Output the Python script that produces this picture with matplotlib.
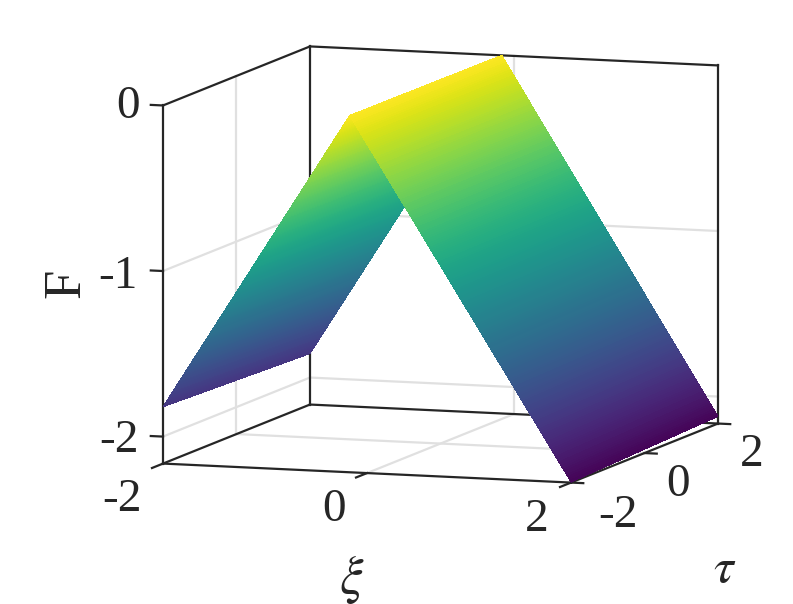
import numpy as np
import matplotlib
matplotlib.use('Agg')
import matplotlib.pyplot as plt

# values, one row per tau edge
tau_ends = [-2.0, 2.0]
xi_knots_front = [-2.0, -0.17, 2.0]
xi_knots_back = [-2.0, -0.12, 2.0]
F_knots_front = [-1.82, -0.008, -2.16]
F_knots_back = [-1.855, 0.0, -2.12]
xi_ticks = [-2, 0, 2]
tau_ticks = [-2, 0, 2]
F_ticks = [-2, -1, 0]
xi_labels = ['-2', '0', '2']
tau_labels = ['-2', '0', '2']
F_labels = ['-2', '-1', '0']
F_low = -2.163
F_high = 0.0

W, H = 793, 604
line_col = '#262626'
grid_col = '#e0e0e0'

plt.rcParams['font.family'] = ['Liberation Serif', 'DejaVu Serif']
plt.rcParams['mathtext.fontset'] = 'stix'

fig = plt.figure(figsize=(W/100, H/100), dpi=100)
side = 703
ax = fig.add_axes([79.5/W, -21.5/H, side/W, side/H], projection='3d', computed_zorder=False)
ax.set_proj_type('ortho')
ax.view_init(elev=7.86, azim=-71.2)
ax.set_box_aspect((431, 456, 361.5))
ax.set_xlim(-2, 2)
ax.set_ylim(-2, 2)
ax.set_zlim(F_low, F_high)
ax.set_axis_off()

def seg(p, q, col=line_col, lw=1.6, z=1.5):
    ax.plot([p[0], q[0]], [p[1], q[1]], [p[2], q[2]], color=col, lw=lw, zorder=z,
            solid_capstyle='projecting')

# grid on the walls and floor
for f in F_ticks[:2]:
    seg((-2, -2, f), (-2, 2, f), grid_col, z=1)
    seg((-2, 2, f), (2, 2, f), grid_col, z=1)
seg((-2, 0, F_low), (-2, 0, F_high), grid_col, z=1)
seg((-2, 0, F_low), (2, 0, F_low), grid_col, z=1)
seg((0, 2, F_low), (0, 2, F_high), grid_col, z=1)
seg((0, -2, F_low), (0, 2, F_low), grid_col, z=1)

# box
seg((-2, -2, F_low), (-2, -2, F_high))
seg((-2, -2, F_high), (-2, 2, F_high))
seg((-2, 2, F_high), (2, 2, F_high))
seg((2, 2, F_high), (2, 2, F_low))
seg((-2, 2, F_high), (-2, 2, F_low))
seg((-2, -2, F_low), (2, -2, F_low))
seg((-2, -2, F_low), (-2, 2, F_low))
seg((-2, 2, F_low), (2, 2, F_low))
seg((2, -2, F_low), (2, 2, F_low))

# tick marks
for t in xi_ticks:
    seg((t, -2, F_low), (t, -2.3, F_low))
for t in tau_ticks:
    seg((2, t, F_low), (2.12, t, F_low))
for f in F_ticks:
    seg((-2, -2, f), (-2.12, -2, f))

# surface, fine strips on each side of the ridge so the colour runs smoothly
def strip_xi(knots):
    return np.r_[np.linspace(knots[0], knots[1], 201), np.linspace(knots[1], knots[2], 201)[1:]]

X = np.array([strip_xi(xi_knots_front), strip_xi(xi_knots_back)])
T = np.array([[tau_ends[0]] * X.shape[1], [tau_ends[1]] * X.shape[1]])
Z = np.array([np.interp(X[0], xi_knots_front, F_knots_front),
              np.interp(X[1], xi_knots_back, F_knots_back)])
ax.plot_surface(X, T, Z, cmap='viridis', vmin=F_low, vmax=F_high, rstride=1, cstride=1,
                linewidth=0.3, edgecolor='none', antialiased=False, shade=False, zorder=2)

def label(x, y, s, size=34, rot=0):
    fig.text(x/W, 1 - y/H, s, fontsize=size, color=line_col, ha='center', va='center', rotation=rot)

for (x, y), s in zip([(122, 500), (334, 510), (537, 520)], xi_labels):
    label(x, y, s)
for (x, y), s in zip([(618, 516), (678, 485), (752, 455)], tau_labels):
    label(x, y, s)
for (x, y), s in zip([(119, 441), (118, 277), (128, 107)], F_labels):
    label(x, y, s)
label(352, 579, r'$\xi$', size=38)
label(725, 570, r'$\tau$', size=36)
label(66, 283, 'F', size=38, rot=90)

fig.savefig('out.png', dpi=100)
